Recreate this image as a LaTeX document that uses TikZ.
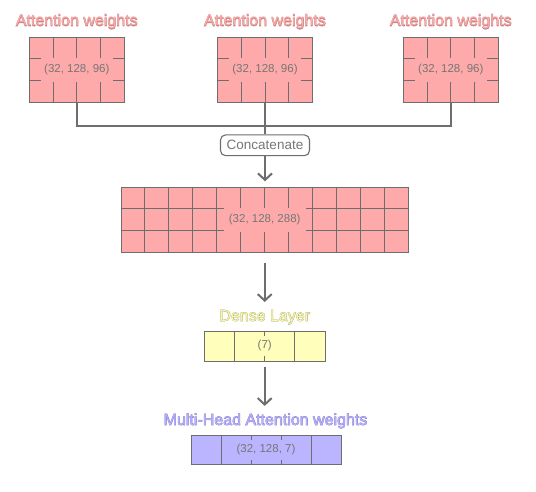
\documentclass[tikz,border=0pt]{standalone}
\usepackage{fontspec}
\setmainfont{Liberation Sans}
\newfontfamily\fbfont[FakeBold=3.5]{Liberation Sans}
\usetikzlibrary{arrows.meta,calc}
\definecolor{pinkfill}{HTML}{FFAAAA}
\definecolor{pinktitle}{HTML}{F7ABAB}
\definecolor{pinkline}{HTML}{D08585}
\definecolor{yelfill}{HTML}{FFFFBB}
\definecolor{yeltitle}{HTML}{F6F6B0}
\definecolor{yelline}{HTML}{B0B068}
\definecolor{purfill}{HTML}{BBB4FF}
\definecolor{purtitle}{HTML}{B9B1F8}
\definecolor{purline}{HTML}{857BD5}
\definecolor{edgegray}{HTML}{6E6E6E}
\definecolor{txtgray}{HTML}{767676}
\newcommand{\outlined}[3]{\rlap{\color{#1}\fbfont #3}{\color{#2}#3}}
\newcommand{\vlinesof}[2]{\pgfmathtruncatemacro\ncolsm{#2-1}%
  \foreach \i in {1,...,\ncolsm}{\draw[gridline] ($(#1.north west)!\i/#2!(#1.north east)$) -- ($(#1.south west)!\i/#2!(#1.south east)$);}}
\newcommand{\hlinesof}[2]{\pgfmathtruncatemacro\nrowsm{#2-1}%
  \foreach \j in {1,...,\nrowsm}{\draw[gridline] ($(#1.north west)!\j/#2!(#1.south west)$) -- ($(#1.north east)!\j/#2!(#1.south east)$);}}
\tikzset{
  cellbox/.style={draw=edgegray, line width=1bp, inner sep=0pt, outer sep=0pt},
  gridline/.style={draw=edgegray, line width=1bp},
  lab/.style={inner sep=0pt, outer sep=0pt, text=txtgray, font=\fontsize{11.5bp}{13bp}\selectfont},
  title/.style={inner sep=0pt, outer sep=0pt, anchor=base, font=\fontsize{16bp}{18bp}\selectfont},
  conn/.style={draw=edgegray, line width=2bp},
  arr/.style={conn, -{Straight Barb[length=6.5bp,width=14bp]}},
  opbox/.style={draw=edgegray, line width=1.1bp, rounded corners=5bp, fill=white, text=txtgray,
    minimum width=89bp, minimum height=20.7bp, inner sep=0pt, font=\fontsize{13.5bp}{15bp}\selectfont}
}
\begin{document}
\begin{tikzpicture}[x=1bp,y=-1bp]
\fill[white] (0,0) rectangle (536,492);
\useasboundingbox (0,0) rectangle (536,492);

% titles
\node[title] (t1) at (76.8,26) {\outlined{pinkline}{pinktitle}{Attention weights}};
\node[title] (t2) at (265,26) {\outlined{pinkline}{pinktitle}{Attention weights}};
\node[title] (t3) at (450.8,26) {\outlined{pinkline}{pinktitle}{Attention weights}};

% three attention boxes
\foreach \nm/\cx in {b1/76.8, b2/265, b3/450.8}{
  \node[cellbox, fill=pinkfill, minimum width=95bp, minimum height=65bp] (\nm) at (\cx,69.8) {};
  \vlinesof{\nm}{4}
  \hlinesof{\nm}{3}
  \node[lab, fill=pinkfill, minimum height=23.6bp, inner xsep=3.5bp] (\nm l) at (\nm) {(32, 128, 96)};
}

% concatenate
\coordinate (j) at ($(b2.south)+(0,23.4)$);
\node[opbox] (cc) at (265,145.3) {Concatenate};
\draw[conn] (b1.south) |- (j) -| (b3.south);
\draw[conn] (b2.south) -- (cc.north);

% big box
\node[cellbox, fill=pinkfill, minimum width=287.3bp, minimum height=65bp] (big) at (264.7,219.8) {};
\vlinesof{big}{12}
\hlinesof{big}{3}
\node[lab, fill=pinkfill, minimum height=23.6bp, inner xsep=5bp] (bigl) at (big) {(32, 128, 288)};
\draw[arr, shorten >=6bp] (cc.south) -- (cc.south |- big.north);

% dense layer
\node[title] (t4) at (264.7,321) {\outlined{yelline}{yeltitle}{Dense Layer}};
\node[cellbox, fill=yelfill, minimum width=120.7bp, minimum height=30bp] (dense) at (264.7,346) {};
\vlinesof{dense}{4}
\node[lab, fill=yelfill, minimum height=20bp, inner xsep=5bp] (densel) at (dense) {(7)};
\draw[arr, shorten <=10.7bp, shorten >=8bp] (big.south) -- (t4.north);

% multi-head
\node[title] (t5) at (265.5,425) {\outlined{purline}{purtitle}{Multi-Head Attention weights}};
\node[cellbox, fill=purfill, minimum width=150bp, minimum height=29.3bp] (mha) at (266,449.7) {};
\vlinesof{mha}{5}
\node[lab, fill=purfill, minimum height=20bp, inner xsep=4bp] (mhal) at (mha) {(32, 128, 7)};
\draw[arr, shorten <=5.7bp, shorten >=7.5bp] (dense.south) -- (dense.south |- t5.north);
\end{tikzpicture}
\end{document}
